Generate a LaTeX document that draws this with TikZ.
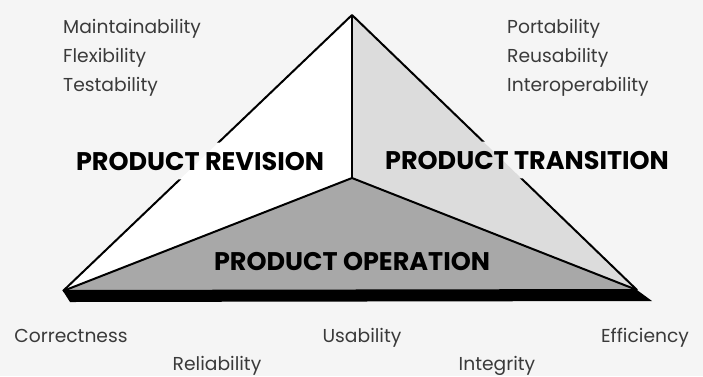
\documentclass[tikz,border=0pt]{standalone}
\usepackage{fontspec}
\setmainfont{Poppins}
\usetikzlibrary{calc}

\definecolor{paper}{HTML}{F5F5F5}
\definecolor{transface}{HTML}{DCDCDC}
\definecolor{operface}{HTML}{A8A8A8}
\definecolor{qualgray}{HTML}{3A3A3A}

\tikzset{
    quality/.style={font=\fontsize{18.7}{18.7}\selectfont, text=qualgray, inner sep=0pt},
    category/.style={font=\bfseries\fontsize{25.5}{25.5}\selectfont, inner xsep=2pt, inner ysep=9pt},
    edge/.style={line width=2pt, line join=round}
}

\begin{document}
\begin{tikzpicture}[x=1pt,y=-1pt]
    % Canvas:
    \fill[paper] (0,0) rectangle (703,376);
    \useasboundingbox (0,0) rectangle (703,376);

    % Corners of the pyramid:
    \coordinate (top)   at (352,15);
    \coordinate (left)  at (63,291);
    \coordinate (right) at (637,290);
    \coordinate (mid)   at (352,178);

    % Shadow under the base
    \fill (left) -- (right) -- ($(right)+(15,11)$) -- ($(left)+(7,11)$) -- cycle;

    % Faces
    \fill[white]     (top) -- (left) -- (mid) -- cycle;
    \fill[transface] (top) -- (mid) -- (right) -- cycle;
    \fill[operface]  (left) -- (mid) -- (right) -- cycle;

    % Three views:
    \node[category, anchor=base] (revision)   at (200,170) {PRODUCT REVISION};
    \node[category, anchor=base] (transition) at (527,169) {PRODUCT TRANSITION};
    \node[category, anchor=base] (operation)  at (352,270) {PRODUCT OPERATION};

    % Edges
    \begin{scope}[edge]
    \draw (mid) -- (top);
    \draw (left) -- (mid) -- (right);
    \draw (left) -- (right);
    % the slanted sides break round the labels
    \begin{scope}[even odd rule]
    \clip (0,0) rectangle (703,376)
        (revision.south west) rectangle (revision.north east)
        (transition.south west) rectangle (transition.north east);
    \draw (left) -- (top) -- (right);
    \end{scope}
    \end{scope}

    % Quality factors:
    \node[quality, anchor=base west] (maint) at (63,33) {Maintainability};
    \node[quality, anchor=base west] (flex)  at (63,62) {Flexibility};
    \node[quality, anchor=base west] (test)  at (63,91) {Testability};

    \node[quality, anchor=base west] (port)  at (507,33) {Portability};
    \node[quality, anchor=base west] (reuse) at (507,62) {Reusability};
    \node[quality, anchor=base west] (inter) at (507,91) {Interoperability};

    \node[quality, anchor=base] (correct) at (71,342)  {Correctness};
    \node[quality, anchor=base] (reliab)  at (217,370) {Reliability};
    \node[quality, anchor=base] (usab)    at (362,342) {Usability};
    \node[quality, anchor=base] (integ)   at (497,370) {Integrity};
    \node[quality, anchor=base] (effic)   at (645,342) {Efficiency};
\end{tikzpicture}
\end{document}
